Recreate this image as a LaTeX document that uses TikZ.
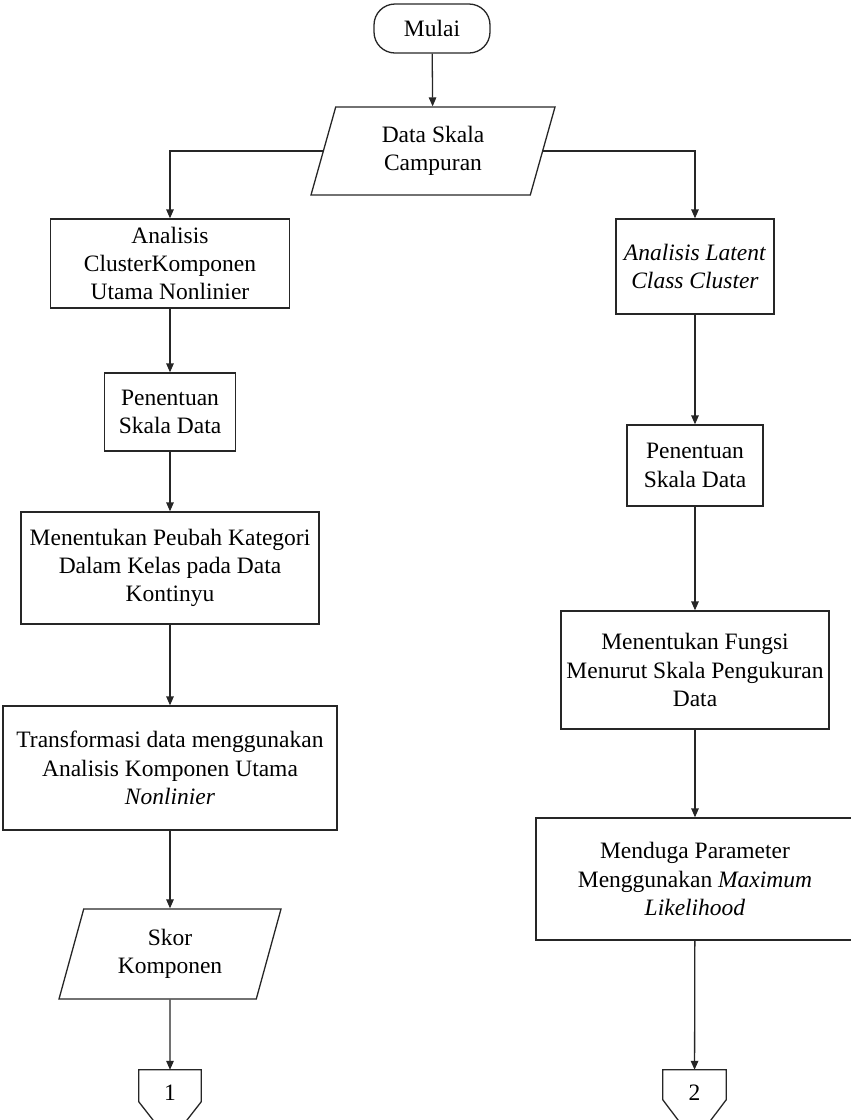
\documentclass[tikz,border=0pt]{standalone}
\usepackage{fontspec}
\setmainfont{Liberation Serif}
\usetikzlibrary{shapes.geometric,arrows.meta}

\begin{document}
\begin{tikzpicture}[x=1pt,y=-1pt,
  font=\fontsize{23.5}{28.3}\selectfont,
  every node/.style={align=center,inner sep=0pt},
  garis/.style={draw=black!85,line width=1.3pt},
  proses/.style={garis,rectangle},
  io/.style={garis,trapezium,trapezium left angle=63.5,trapezium right angle=116.5,trapezium stretches body},
  alur/.style={garis,-{Triangle[length=9pt,width=7.5pt]}}]
\useasboundingbox (0,0) rectangle (851,1120);

% mulai dan data %
\node[proses,rounded corners=21pt,minimum width=116pt,minimum height=49pt] (mulai) at (432,28.5) {Mulai};
\node[io,minimum width=244pt,minimum height=88pt] (data) at (433,151) {Data Skala\\Campuran};

% jalur kiri: komponen utama nonlinier %
\node[proses,minimum width=239pt,minimum height=89pt] (akun) at (170,263.5) {Analisis\\ClusterKomponen\\Utama Nonlinier};
\node[proses,minimum width=131pt,minimum height=78pt] (skalaA) at (170,412) {Penentuan\\Skala Data};
\node[proses,minimum width=298pt,minimum height=112pt] (peubah) at (170,568) {Menentukan Peubah Kategori\\Dalam Kelas pada Data\\Kontinyu};
\node[proses,minimum width=334pt,minimum height=124pt] (transf) at (170,768) {Transformasi data menggunakan\\Analisis Komponen Utama\\\textit{Nonlinier}};
\node[io,minimum width=222pt,minimum height=90pt] (skor) at (170,954) {Skor\\Komponen};
\node[minimum width=62pt,minimum height=46pt] (hal1) at (170,1093) {1};

% jalur kanan: latent class %
\node[proses,minimum width=158pt,minimum height=95pt] (latent) at (695,266.5) {\textit{Analisis Latent}\\\textit{Class Cluster}};
\node[proses,minimum width=136pt,minimum height=81pt] (skalaB) at (695,465.5) {Penentuan\\Skala Data};
\node[proses,minimum width=268pt,minimum height=118pt] (fungsi) at (695,670) {Menentukan Fungsi\\Menurut Skala Pengukuran\\Data};
\node[proses,minimum width=318pt,minimum height=122pt] (duga) at (695,879) {Menduga Parameter\\Menggunakan \textit{Maximum}\\\textit{Likelihood}};
\node[minimum width=63pt,minimum height=46pt] (hal2) at (694.5,1093) {2};

% penghubung halaman %
\draw[garis] (hal1.north west) -- (hal1.north east) -- ([yshift=-32pt]hal1.north east)
  -- ([yshift=-72pt]hal1.north) -- ([yshift=-32pt]hal1.north west) -- cycle;
\draw[garis] (hal2.north west) -- (hal2.north east) -- ([yshift=-30pt]hal2.north east)
  -- ([yshift=-72pt]hal2.north) -- ([yshift=-30pt]hal2.north west) -- cycle;

% panah %
\draw[alur] (mulai) -- (data);
\draw[alur] (data.west) -| (akun.north);
\draw[alur] (data.east) -| (latent.north);
\draw[alur] (akun) -- (skalaA);
\draw[alur] (skalaA) -- (peubah);
\draw[alur] (peubah) -- (transf);
\draw[alur] (transf) -- (skor);
\draw[alur] (skor) -- (hal1);
\draw[alur] (latent) -- (skalaB);
\draw[alur] (skalaB) -- (fungsi);
\draw[alur] (fungsi) -- (duga);
\draw[alur] (duga) -- (hal2);

\end{tikzpicture}
\end{document}
